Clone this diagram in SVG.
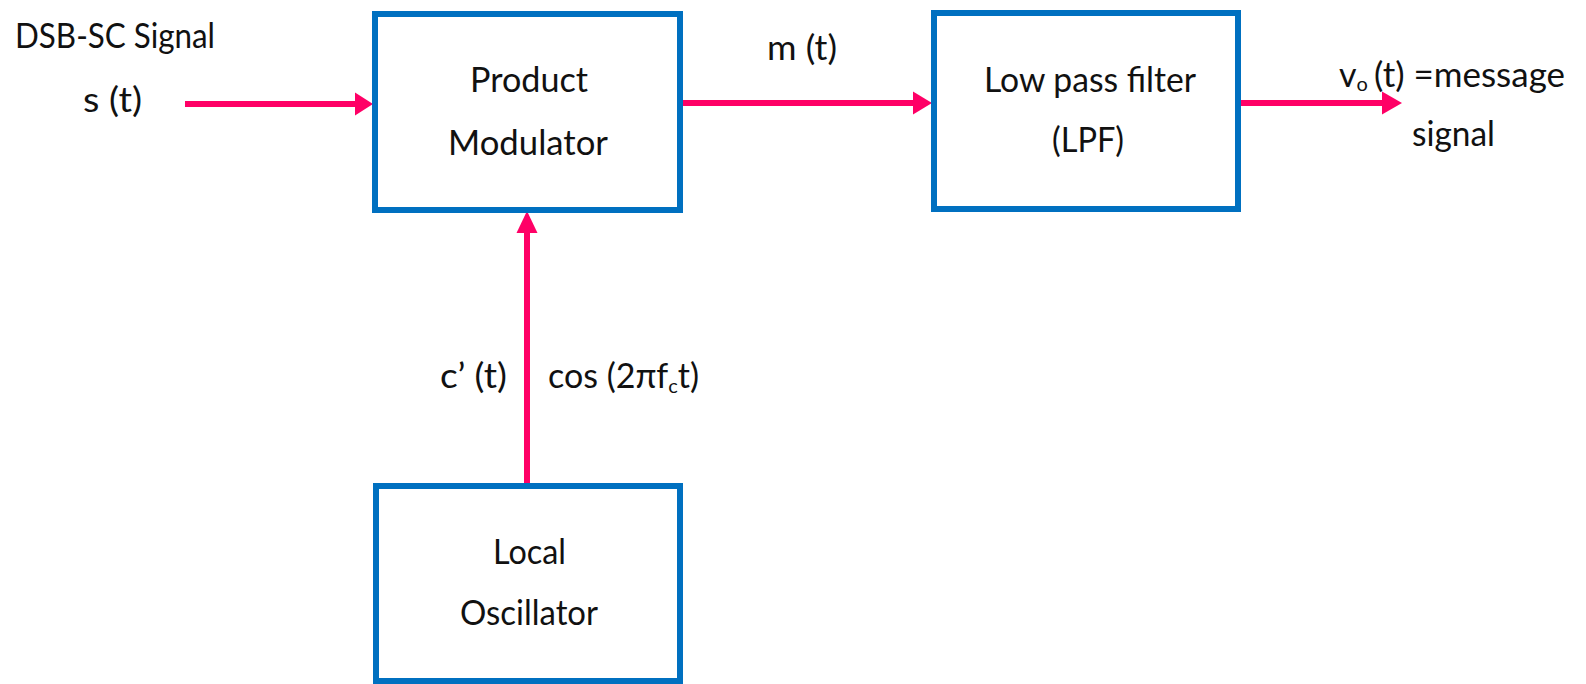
<svg xmlns="http://www.w3.org/2000/svg" width="1586" height="684" viewBox="0 0 1586 684">
  <defs>
    <style>
      .box { fill: #ffffff; stroke: #0070C0; stroke-width: 6; }
      .wire { stroke: #FF0066; stroke-width: 6; fill: none; }
      .head { fill: #FF0066; }
      text { font-family: Lato, "Liberation Sans", sans-serif; font-size: 34px; fill: #111111; }
    </style>
  </defs>
  <rect width="1586" height="684" fill="#ffffff"/>

  <g id="connectors">
    <line class="wire" x1="185" y1="104" x2="358" y2="104"/>
    <polygon class="head" points="373,104 355,92.5 355,115.5"/>
    <line class="wire" x1="683" y1="103" x2="916" y2="103"/>
    <polygon class="head" points="932,103 913,91.5 913,114.5"/>
    <line class="wire" x1="1241" y1="103" x2="1385" y2="103"/>
    <polygon class="head" points="1402,103 1382,91.5 1382,114.5"/>
    <line class="wire" x1="527" y1="486" x2="527" y2="230"/>
    <polygon class="head" points="527,211 516.5,233 537.5,233"/>
  </g>

  <g id="labels">
    <text x="15" y="48" textLength="200" lengthAdjust="spacingAndGlyphs">DSB-SC Signal</text>
    <text x="83" y="112" textLength="59" lengthAdjust="spacingAndGlyphs">s (t)</text>
    <text x="767" y="60" textLength="70" lengthAdjust="spacingAndGlyphs">m (t)</text>
    <text x="1339" y="87"><tspan>v</tspan><tspan font-size="20" dy="4">o</tspan><tspan x="1374" dy="-4" textLength="191" lengthAdjust="spacingAndGlyphs">(t) =message</tspan></text>
    <text x="1412" y="146" textLength="83" lengthAdjust="spacingAndGlyphs">signal</text>
    <text x="440" y="388" textLength="67" lengthAdjust="spacingAndGlyphs">c’ (t)</text>
    <text x="548" y="388"><tspan>cos (2πf</tspan><tspan font-size="20" dy="5">c</tspan><tspan dy="-5">t)</tspan></text>
  </g>

  <g id="product-modulator">
    <rect class="box" x="375" y="14" width="305" height="196"/>
    <text x="470" y="92" textLength="118" lengthAdjust="spacingAndGlyphs">Product</text>
    <text x="448" y="155" textLength="160" lengthAdjust="spacingAndGlyphs">Modulator</text>
  </g>

  <g id="low-pass-filter">
    <rect class="box" x="934" y="13" width="304" height="196"/>
    <text x="984" y="92" textLength="212" lengthAdjust="spacingAndGlyphs">Low pass filter</text>
    <text x="1052" y="152" textLength="72" lengthAdjust="spacingAndGlyphs">(LPF)</text>
  </g>

  <g id="local-oscillator">
    <rect class="box" x="376" y="486" width="304" height="195"/>
    <text x="493" y="564" textLength="73" lengthAdjust="spacingAndGlyphs">Local</text>
    <text x="460" y="625" textLength="138" lengthAdjust="spacingAndGlyphs">Oscillator</text>
  </g>
</svg>
